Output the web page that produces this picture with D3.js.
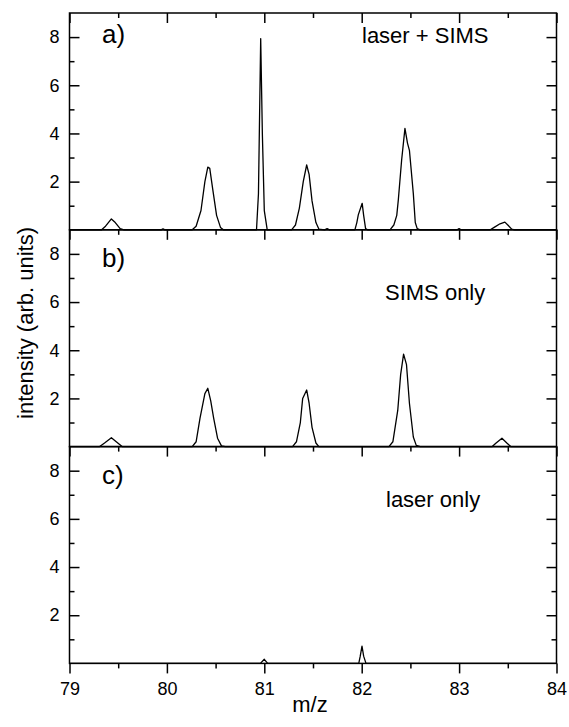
<!DOCTYPE html>
<html>
<head>
<meta charset="utf-8">
<script src="https://cdn.jsdelivr.net/npm/d3@7"></script>
<style>
  body { margin: 0; background: #fff; }
  svg { display: block; }
  text { font-family: "Liberation Sans", Arial, sans-serif; fill: #000; }
</style>
</head>
<body>
<div id="viz"></div>
<script>
// spectra (m/z, intensity)
const mzA  = [79.0, 79.33, 79.37, 79.43, 79.47, 79.52, 79.56, 79.94, 79.96, 79.98,
              80.26, 80.30, 80.35, 80.39, 80.42, 80.44, 80.47, 80.51, 80.55, 80.58,
              80.92, 80.94, 80.963, 80.98, 81.0, 81.03,
              81.28, 81.32, 81.36, 81.40, 81.435, 81.46, 81.49, 81.53, 81.56, 81.62, 81.645, 81.67,
              81.93, 81.95, 81.965, 82.005, 82.02, 82.04, 82.06,
              82.29, 82.33, 82.36, 82.376, 82.41, 82.444, 82.47, 82.49, 82.53, 82.55, 82.57, 82.60,
              82.98, 83.0, 83.02, 83.32, 83.36, 83.42, 83.47, 83.50, 83.54, 83.57, 84.0];
const intA = [0, 0, 0.15, 0.45, 0.3, 0.05, 0, 0, 0.04, 0,
              0, 0.15, 0.8, 2.0, 2.6, 2.55, 1.7, 0.6, 0.1, 0,
              0, 1.5, 7.94, 4.0, 0.8, 0,
              0, 0.2, 0.9, 2.0, 2.69, 2.3, 1.2, 0.3, 0.03, 0, 0.05, 0,
              0, 0.3, 0.62, 1.1, 0.6, 0.05, 0,
              0, 0.2, 0.6, 1.24, 2.9, 4.21, 3.6, 3.3, 1.5, 0.3, 0.05, 0,
              0, 0.05, 0, 0, 0.1, 0.25, 0.32, 0.2, 0.03, 0, 0];

const mzB  = [79.0, 79.31, 79.36, 79.43, 79.48, 79.54,
              80.26, 80.30, 80.34, 80.39, 80.42, 80.45, 80.48, 80.52, 80.56, 80.60,
              81.29, 81.33, 81.37, 81.394, 81.435, 81.46, 81.49, 81.53, 81.56,
              82.28, 82.32, 82.37, 82.40, 82.43, 82.46, 82.49, 82.53, 82.56, 82.60,
              83.34, 83.38, 83.44, 83.49, 83.53, 84.0];
const intB = [0, 0, 0.15, 0.37, 0.2, 0,
              0, 0.2, 1.18, 2.2, 2.42, 1.9, 1.18, 0.35, 0.03, 0,
              0, 0.2, 1.0, 2.0, 2.35, 1.8, 0.8, 0.15, 0,
              0, 0.2, 1.5, 3.0, 3.84, 3.4, 1.8, 0.4, 0.05, 0,
              0, 0.15, 0.35, 0.15, 0, 0];

const mzC  = [79.0, 80.96, 81.0, 81.035, 81.97, 81.985, 82.003, 82.02, 82.044, 84.0];
const intC = [0, 0, 0.17, 0, 0, 0.3, 0.72, 0.3, 0, 0];

const xMajor = [79, 80, 81, 82, 83, 84];
const xMinor = [79.5, 80.5, 81.5, 82.5, 83.5];
const yMajor = [2, 4, 6, 8];
const yMinor = [1, 3, 5, 7];

const panels = [
  { mz: mzA, val: intA, tag: "a)", note: "laser + SIMS", tagY: 30, noteX: 362, noteY: 30 },
  { mz: mzB, val: intB, tag: "b)", note: "SIMS only",    tagY: 37, noteX: 385, noteY: 70 },
  { mz: mzC, val: intC, tag: "c)", note: "laser only",   tagY: 37, noteX: 386, noteY: 60 }
];

const W = 569, H = 727;
const left = 69.5, right = 556.5, plotTop = 13, panelH = 216.8;

const svg = d3.select("#viz").append("svg")
    .attr("width", W).attr("height", H);

const x = d3.scaleLinear().domain([79, 84]).range([left, right]);

panels.forEach((p, i) => {
  const y0 = plotTop + i * panelH, y1 = y0 + panelH;
  const y = d3.scaleLinear().domain([0, 9]).range([y1, y0]);
  const g = svg.append("g");

  // spectrum
  const line = d3.line().x((d, k) => x(p.mz[k])).y(d => y(d));
  g.append("path")
    .datum(p.val)
    .attr("d", line)
    .attr("fill", "none")
    .attr("stroke", "#000")
    .attr("stroke-width", 1.3)
    .attr("stroke-linejoin", "round");

  // left axis, ticks inward
  g.append("g").attr("class", "ax")
    .attr("transform", `translate(${left},0)`)
    .call(d3.axisLeft(y).tickValues(yMajor).tickSize(-10).tickPadding(10).tickSizeOuter(0));
  g.append("g").attr("class", "ax")
    .attr("transform", `translate(${left},0)`)
    .call(d3.axisLeft(y).tickValues(yMinor).tickSize(-5).tickFormat("").tickSizeOuter(0));

  // right axis, ticks inward
  g.append("g").attr("class", "ax")
    .attr("transform", `translate(${right},0)`)
    .call(d3.axisLeft(y).tickValues(yMajor).tickSize(10).tickFormat("").tickSizeOuter(0));
  g.append("g").attr("class", "ax")
    .attr("transform", `translate(${right},0)`)
    .call(d3.axisLeft(y).tickValues(yMinor).tickSize(5).tickFormat("").tickSizeOuter(0));

  // top axis, ticks pointing down
  g.append("g").attr("class", "ax")
    .attr("transform", `translate(0,${y0})`)
    .call(d3.axisBottom(x).tickValues(xMajor).tickSize(10).tickFormat("").tickSizeOuter(0));
  g.append("g").attr("class", "ax")
    .attr("transform", `translate(0,${y0})`)
    .call(d3.axisBottom(x).tickValues(xMinor).tickSize(5).tickFormat("").tickSizeOuter(0));

  // frame
  g.append("rect")
    .attr("x", left).attr("y", y0)
    .attr("width", right - left).attr("height", panelH)
    .attr("fill", "none").attr("stroke", "#000").attr("stroke-width", 1.5);

  g.append("text")
    .attr("x", 102).attr("y", y0 + p.tagY)
    .attr("font-size", 26)
    .text(p.tag);
  g.append("text")
    .attr("x", p.noteX).attr("y", y0 + p.noteY)
    .attr("font-size", 22)
    .text(p.note);

  if (i === panels.length - 1) {
    g.append("g").attr("class", "ax")
      .attr("transform", `translate(0,${y1})`)
      .call(d3.axisBottom(x).tickValues(xMajor).tickSize(10).tickPadding(9).tickFormat(d3.format("d")).tickSizeOuter(0));
    g.append("g").attr("class", "ax")
      .attr("transform", `translate(0,${y1})`)
      .call(d3.axisBottom(x).tickValues(xMinor).tickSize(5).tickFormat("").tickSizeOuter(0));
  }
});

svg.selectAll(".ax .domain").remove();
svg.selectAll(".ax line").attr("stroke", "#000").attr("stroke-width", 1.5);
svg.selectAll(".ax text")
  .attr("font-family", '"Liberation Sans", Arial, sans-serif')
  .attr("font-size", 18)
  .attr("fill", "#000");

svg.append("text")
  .attr("x", (left + right) / 2 - 3).attr("y", 712)
  .attr("text-anchor", "middle")
  .attr("font-size", 22)
  .text("m/z");

svg.append("text")
  .attr("transform", "translate(33,323) rotate(-90)")
  .attr("text-anchor", "middle")
  .attr("font-size", 22)
  .text("intensity (arb. units)");
</script>
</body>
</html>
